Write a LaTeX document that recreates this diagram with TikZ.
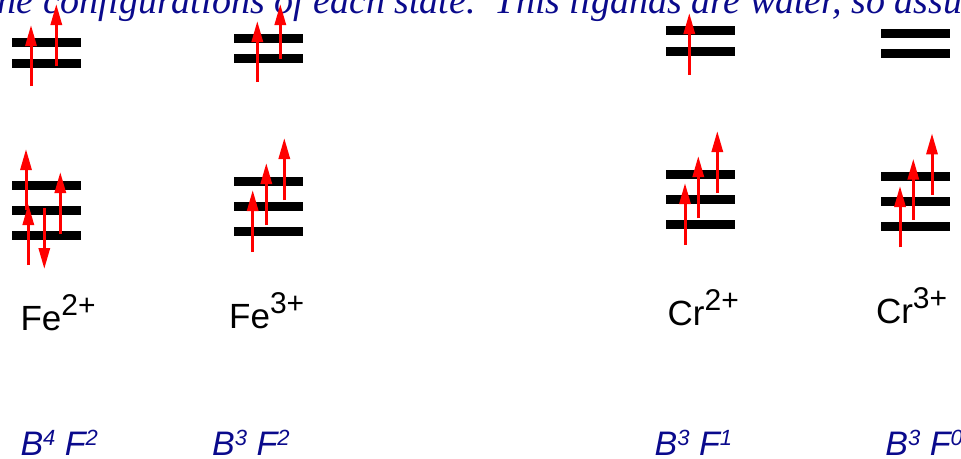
\documentclass[tikz,border=0pt]{standalone}
\usepackage{fontspec}
\setmainfont{Liberation Serif}
\setsansfont{Liberation Sans}
\usetikzlibrary{arrows.meta}
\definecolor{navyblue}{RGB}{10,10,140}
\definecolor{elred}{RGB}{255,0,0}
\tikzset{
  level/.style={line width=9pt, black},
  spin/.style={line width=3pt, elred, -{Triangle[length=21pt,width=11pt]}},
  ion/.style={anchor=base west, inner sep=0pt, font=\sffamily\fontsize{35}{38}\selectfont},
  conf/.style={anchor=base west, inner sep=0pt, text depth=0pt, text=navyblue, font=\sffamily\itshape\fontsize{34}{36}\selectfont},
  head/.style={anchor=base west, inner sep=0pt, text=navyblue, font=\rmfamily\itshape\fontsize{38}{42}\selectfont}
}
\newcommand{\ionsup}[1]{\raisebox{15pt}{\fontsize{30}{32}\selectfont #1}}
\newcommand{\confsup}[1]{\raisebox{10pt}{\fontsize{22}{24}\selectfont #1}}
\begin{document}
\begin{tikzpicture}[x=1pt,y=-1pt]
\useasboundingbox (0,0) rectangle (961,458);
\clip (0,0) rectangle (961,458);
% heading (cut by the top edge, as in the reference)
\node[head] (heading) at (-13,13) {the configurations of each state.\ \ This ligands are water, so assume};
% ---- Fe2+ ----
\draw[level] (12,42.5) -- (81,42.5);
\draw[level] (12,63.3) -- (81,63.3);
\draw[level] (12,185.5) -- (81,185.5);
\draw[level] (12,210.5) -- (81,210.5);
\draw[level] (12,235.7) -- (81,235.7);
\draw[spin] (31,86) -- (31,25);
\draw[spin] (56.3,66) -- (56.3,4);
\draw[spin] (26,210) -- (26,149);
\draw[spin] (28.3,265) -- (28.3,204);
\draw[spin] (44.3,208) -- (44.3,269);
\draw[spin] (60.3,234) -- (60.3,172);
% ---- Fe3+ ----
\draw[level] (234.3,38.2) -- (302.7,38.2);
\draw[level] (234.3,58.8) -- (302.7,58.8);
\draw[level] (234.3,181.3) -- (302.7,181.3);
\draw[level] (234.3,206.5) -- (302.7,206.5);
\draw[level] (234.3,231.5) -- (302.7,231.5);
\draw[spin] (257.3,82) -- (257.3,21);
\draw[spin] (280.3,59.3) -- (280.3,4);
\draw[spin] (252.7,252) -- (252.7,190);
\draw[spin] (266.3,225) -- (266.3,163);
\draw[spin] (284.3,200) -- (284.3,138);
% ---- Cr2+ ----
\draw[level] (666,30.8) -- (735,30.8);
\draw[level] (666,51.8) -- (735,51.8);
\draw[level] (666,174.5) -- (735,174.5);
\draw[level] (666,199.5) -- (735,199.5);
\draw[level] (666,224.5) -- (735,224.5);
\draw[spin] (689.3,75) -- (689.3,13);
\draw[spin] (685,245) -- (685,183);
\draw[spin] (698.3,218.3) -- (698.3,156);
\draw[spin] (717.3,192.7) -- (717.3,131);
% ---- Cr3+ ----
\draw[level] (881,33.3) -- (950,33.3);
\draw[level] (881,53.8) -- (950,53.8);
\draw[level] (881,176.5) -- (950,176.5);
\draw[level] (881,201.5) -- (950,201.5);
\draw[level] (881,226.5) -- (950,226.5);
\draw[spin] (900,247.3) -- (900,186);
\draw[spin] (913.3,220) -- (913.3,158.7);
\draw[spin] (932,195) -- (932,133.3);
% ---- ion labels ----
\node[ion] (fe2) at (20.3,330.7) {Fe\ionsup{2+}};
\node[ion] (fe3) at (229,328.3) {Fe\ionsup{3+}};
\node[ion] (cr2) at (667.5,325.7) {Cr\ionsup{2+}};
\node[ion] (cr3) at (875.8,323.3) {Cr\ionsup{3+}};
% ---- configurations ----
\node[conf] (c1) at (20.3,455.7) {B\confsup{4} F\confsup{2}};
\node[conf] (c2) at (212,455.7) {B\confsup{3} F\confsup{2}};
\node[conf] (c3) at (654.5,455.7) {B\confsup{3} F\confsup{1}};
\node[conf] (c4) at (885.2,455.7) {B\confsup{3} F\confsup{0}};
\end{tikzpicture}
\end{document}
